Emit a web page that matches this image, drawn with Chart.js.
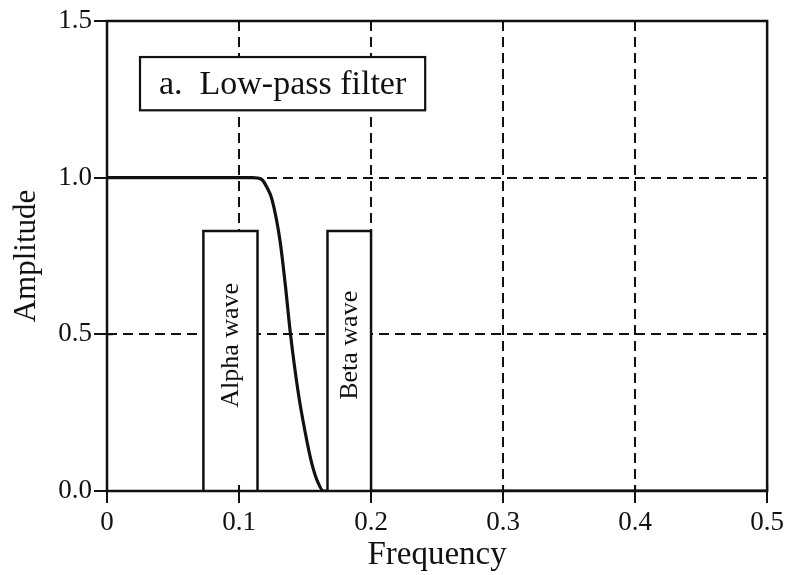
<!DOCTYPE html>
<html>
<head>
<meta charset="utf-8">
<script src="https://cdn.jsdelivr.net/npm/chart.js@4/dist/chart.umd.min.js"></script>
<style>
  html, body { margin: 0; padding: 0; background: #fff; }
  #wrap { width: 788px; height: 575px; }
</style>
</head>
<body>
<div id="wrap"><canvas id="chart" width="788" height="575"></canvas></div>
<script>
// Filter response (frequency -> amplitude)
const freq = [0, 0.05, 0.11, 0.117, 0.121, 0.125, 0.131, 0.135, 0.139, 0.145, 0.150, 0.155, 0.160, 0.164, 0.2, 0.3, 0.4, 0.5];
const amplitude = [1, 1, 1, 0.995, 0.97, 0.93, 0.8, 0.66, 0.5, 0.31, 0.19, 0.09, 0.025, 0, 0, 0, 0, 0];

// Frequency bands drawn as boxes
const bandNames = ['Alpha wave', 'Beta wave'];
const bandStart = [0.073, 0.167];
const bandEnd = [0.114, 0.2];
const bandHeight = [0.83, 0.83];

// Tick labels
const xTickLabels = ['0', '0.1', '0.2', '0.3', '0.4', '0.5'];
const yTickLabels = ['0.0', '0.5', '1.0', '1.5'];

const panelTitle = 'a.  Low-pass filter';

const ink = '#111';
const serif = '"Liberation Serif", "DejaVu Serif", serif';

const datasets = [];
bandNames.forEach((name, i) => {
    datasets.push({
        label: name,
        data: [
            { x: bandStart[i], y: 0 },
            { x: bandStart[i], y: bandHeight[i] },
            { x: bandEnd[i], y: bandHeight[i] },
            { x: bandEnd[i], y: 0 }
        ],
        showLine: true,
        borderColor: ink,
        borderWidth: 2.5,
        backgroundColor: '#fff',
        pointRadius: 0,
        tension: 0,
        fill: 'origin'
    });
});
datasets.push({
    label: 'Low-pass',
    data: freq.map((f, i) => ({ x: f, y: amplitude[i] })),
    showLine: true,
    borderColor: ink,
    borderWidth: 3.2,
    pointRadius: 0,
    cubicInterpolationMode: 'monotone',
    fill: false
});

// frame, inner tick marks, text labels
const decorations = {
    id: 'decorations',
    afterDatasetsDraw(chart) {
        const ctx = chart.ctx;
        const area = chart.chartArea;
        const xs = chart.scales.x;
        const ys = chart.scales.y;
        ctx.save();
        ctx.strokeStyle = ink;
        ctx.lineWidth = 2.5;
        ctx.strokeRect(area.left, area.top, area.right - area.left, area.bottom - area.top);

        // small ticks pointing into the plot
        ctx.lineWidth = 2;
        ctx.beginPath();
        xs.ticks.forEach(t => {
            const px = xs.getPixelForValue(t.value);
            ctx.moveTo(px, area.bottom);
            ctx.lineTo(px, area.bottom - 6);
        });
        ys.ticks.forEach(t => {
            const py = ys.getPixelForValue(t.value);
            ctx.moveTo(area.left, py);
            ctx.lineTo(area.left + 6, py);
        });
        ctx.stroke();

        // rotated band names
        ctx.fillStyle = ink;
        ctx.font = '26px ' + serif;
        ctx.textAlign = 'center';
        ctx.textBaseline = 'middle';
        bandNames.forEach((name, i) => {
            const cx = xs.getPixelForValue((bandStart[i] + bandEnd[i]) / 2);
            const cy = ys.getPixelForValue(0.465);
            ctx.save();
            ctx.translate(cx + 1, cy);
            ctx.rotate(-Math.PI / 2);
            ctx.fillText(name, 0, 0);
            ctx.restore();
        });

        // panel title box
        const bx0 = xs.getPixelForValue(0.025);
        const bx1 = xs.getPixelForValue(0.241);
        const by0 = ys.getPixelForValue(1.385);
        const by1 = ys.getPixelForValue(1.215);
        ctx.fillStyle = '#fff';
        ctx.fillRect(bx0, by0, bx1 - bx0, by1 - by0);
        ctx.lineWidth = 2.2;
        ctx.strokeRect(bx0, by0, bx1 - bx0, by1 - by0);
        ctx.fillStyle = ink;
        ctx.font = '34px ' + serif;
        ctx.fillText(panelTitle, (bx0 + bx1) / 2, (by0 + by1) / 2 + 1);
        ctx.restore();
    }
};

new Chart(document.getElementById('chart'), {
    type: 'scatter',
    data: { datasets: datasets },
    options: {
        responsive: false,
        animation: false,
        layout: { padding: { top: 21, right: 20, left: 0, bottom: 0 } },
        plugins: {
            legend: { display: false },
            tooltip: { enabled: false }
        },
        scales: {
            x: {
                type: 'linear',
                min: 0,
                max: 0.5,
                afterFit: scale => { scale.height = 84; },
                ticks: {
                    stepSize: 0.1,
                    color: ink,
                    padding: 4,
                    font: { family: serif, size: 27 },
                    callback: (v, i) => xTickLabels[i]
                },
                grid: {
                    color: ink,
                    lineWidth: 2,
                    tickLength: 12,
                    tickColor: ink,
                    tickWidth: 2,
                    tickBorderDash: []
                },
                border: { display: false, dash: [10, 6] },
                title: {
                    display: true,
                    text: 'Frequency',
                    color: ink,
                    padding: { top: 0, bottom: 0 },
                    font: { family: serif, size: 33 }
                }
            },
            y: {
                type: 'linear',
                min: 0,
                max: 1.5,
                afterFit: scale => { scale.width = 107; },
                ticks: {
                    stepSize: 0.5,
                    color: ink,
                    padding: 2,
                    font: { family: serif, size: 27 },
                    callback: (v, i) => yTickLabels[i]
                },
                grid: {
                    color: ink,
                    lineWidth: 2,
                    tickLength: 13,
                    tickColor: ink,
                    tickWidth: 2,
                    tickBorderDash: []
                },
                border: { display: false, dash: [10, 6] },
                title: {
                    display: true,
                    text: 'Amplitude',
                    color: ink,
                    padding: { top: 8, bottom: 4 },
                    font: { family: serif, size: 31 }
                }
            }
        }
    },
    plugins: [decorations]
});
</script>
</body>
</html>
